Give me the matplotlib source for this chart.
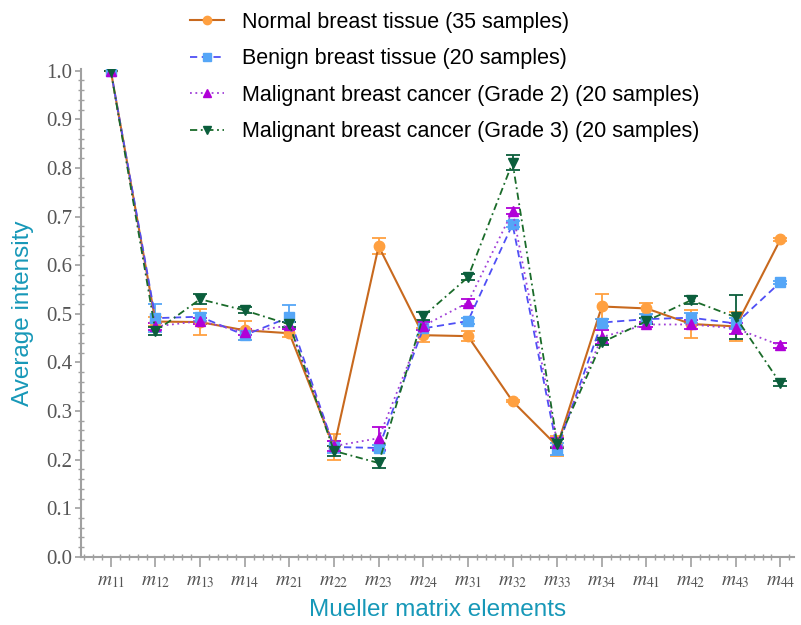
import matplotlib
matplotlib.use("Agg")
from matplotlib import pyplot as plt
from matplotlib.ticker import MultipleLocator
import numpy as np

plt.rcParams['mathtext.fontset'] = 'stix'

elements = ['11', '12', '13', '14', '21', '22', '23', '24',
            '31', '32', '33', '34', '41', '42', '43', '44']

normal = [1.0, 0.484, 0.483, 0.466, 0.460, 0.226, 0.639, 0.456,
          0.454, 0.320, 0.228, 0.515, 0.511, 0.479, 0.474, 0.653]
normal_err = [0.0, 0.01, 0.027, 0.02, 0.008, 0.026, 0.017, 0.015,
              0.01, 0.002, 0.02, 0.026, 0.012, 0.028, 0.029, 0.003]

benign = [1.0, 0.491, 0.494, 0.456, 0.493, 0.226, 0.224, 0.470,
          0.485, 0.684, 0.222, 0.482, 0.489, 0.492, 0.480, 0.565]
benign_err = [0.0, 0.029, 0.008, 0.01, 0.025, 0.012, 0.006, 0.015,
              0.006, 0.006, 0.012, 0.008, 0.01, 0.01, 0.012, 0.003]

grade2 = [1.0, 0.474, 0.485, 0.462, 0.476, 0.228, 0.244, 0.475,
          0.523, 0.711, 0.235, 0.452, 0.478, 0.478, 0.470, 0.435]
grade2_err = [0.0, 0.008, 0.006, 0.006, 0.008, 0.01, 0.024, 0.008,
              0.008, 0.006, 0.01, 0.014, 0.006, 0.01, 0.012, 0.005]

grade3 = [1.0, 0.464, 0.530, 0.507, 0.478, 0.218, 0.193, 0.495,
          0.575, 0.811, 0.233, 0.441, 0.485, 0.528, 0.493, 0.357]
grade3_err = [0.0, 0.008, 0.01, 0.006, 0.006, 0.01, 0.01, 0.008,
              0.006, 0.016, 0.01, 0.006, 0.006, 0.008, 0.045, 0.005]

labels = ['Normal breast tissue (35 samples)',
          'Benign breast tissue (20 samples)',
          'Malignant breast cancer (Grade 2) (20 samples)',
          'Malignant breast cancer (Grade 3) (20 samples)']

x = np.arange(len(elements))

fig = plt.figure(figsize=(8.01, 6.25), dpi=100)
ax = fig.add_axes([0.101, 0.109, 0.89, 0.781])

styles = [
    (normal, normal_err, '#c8691e', '#ffa040', 'o', '-', 1.5),
    (benign, benign_err, '#4f4ff5', '#55a6f7', 's', (0, (4, 2.5)), 1.3),
    (grade2, grade2_err, '#a040d8', '#b000d8', '^', (0, (1, 2)), 1.3),
    (grade3, grade3_err, '#1a6b2a', '#0b5e3c', 'v', (0, (4, 2, 1, 2)), 1.3),
]

handles = []
for (vals, err, lc, mc, mk, ls, lw), lab in zip(styles, labels):
    ax.errorbar(x, vals, yerr=err, fmt='none', ecolor=mc, elinewidth=1.3,
                capsize=5, capthick=1.3, zorder=2)
    h, = ax.plot(x, vals, color=lc, linestyle=ls, linewidth=lw, marker=mk,
                 markersize=7.5, markerfacecolor=mc, markeredgecolor=mc,
                 label=lab, zorder=3)
    handles.append(h)

ax.set_xlim(-0.67, 15.3)
ax.set_ylim(0, 1.004)

ax.set_xticks(x)
ax.set_xticklabels([r'$m_{%s}$' % e for e in elements])
ax.set_yticks(np.arange(0, 1.01, 0.1))
ax.set_yticklabels(['%.1f' % v for v in np.arange(0, 1.01, 0.1)])
ax.xaxis.set_minor_locator(MultipleLocator(0.2))
ax.yaxis.set_minor_locator(MultipleLocator(0.02))

for s in ['top', 'right']:
    ax.spines[s].set_visible(False)
for s in ['left', 'bottom']:
    ax.spines[s].set_color('#a0a0a0')
    ax.spines[s].set_linewidth(1.5)

ax.tick_params(which='major', direction='out', width=1.2,
               color='#a0a0a0', labelcolor='#555555')
ax.tick_params(which='minor', direction='inout', length=4, width=1.0,
               color='#a0a0a0')
ax.tick_params(axis='y', which='major', length=4, labelsize=15, pad=2)
ax.tick_params(axis='x', which='major', length=7, labelsize=14, pad=3)
for t in ax.get_yticklabels():
    t.set_fontfamily('Liberation Serif')

ax.set_xlabel('Mueller matrix elements', fontsize=17.5, color='#1798b8',
              family='Liberation Sans', labelpad=7)
ax.set_ylabel('Average intensity', fontsize=17.5, color='#1798b8',
              family='Liberation Sans', labelpad=9)

fig.legend(handles=handles, loc='upper left', bbox_to_anchor=(0.213, 1.012),
           frameon=False, prop={'family': 'Liberation Sans', 'size': 15.5},
           handlelength=1.6, handletextpad=0.8, labelspacing=0.72,
           markerscale=0.8)

fig.savefig('out.png', dpi=100)
